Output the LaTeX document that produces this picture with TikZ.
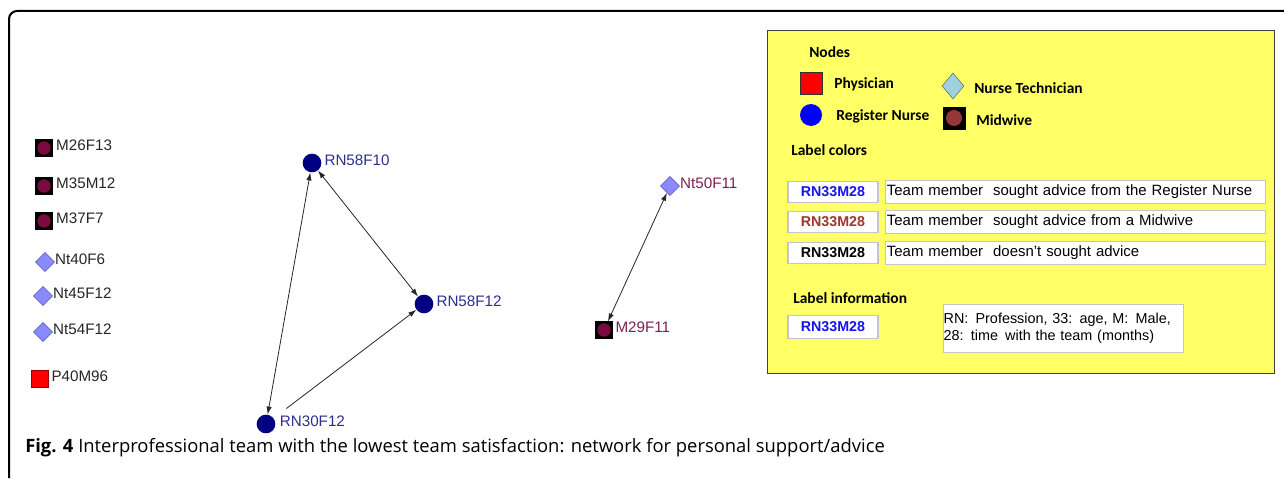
\documentclass[tikz,border=0pt]{standalone}
\usepackage{fontspec}
\setmainfont{Liberation Sans}
\newfontfamily\legfont{Carlito}
\newfontfamily\capfont{Open Sans}
\usepackage{xcolor}
\usepackage{tikz}
\usetikzlibrary{arrows.meta, positioning, shapes.geometric}

\definecolor{rnnavy}{HTML}{000080}
\definecolor{rntext}{HTML}{2E2E8F}
\definecolor{midred}{HTML}{7A0A40}
\definecolor{midtext}{HTML}{7F1F50}
\definecolor{ntfill}{HTML}{8A8AFF}
\definecolor{ntdraw}{HTML}{5A5AB0}
\definecolor{legyellow}{HTML}{FFFF66}
\definecolor{legdiam}{HTML}{9ED0E0}
\definecolor{legbrown}{HTML}{963636}
\definecolor{boxgray}{HTML}{C4C4CC}
\definecolor{lblblue}{HTML}{1414F0}
\definecolor{lblbrown}{HTML}{A3342C}

\begin{document}
\begin{tikzpicture}[x=0.75pt, y=-0.75pt,
            mid/.style={rectangle, draw=black, fill=black, minimum size=12.5pt, inner sep=0pt,
                path picture={\fill[midred] (path picture bounding box.center) circle (5pt);}},
            nt/.style={diamond, draw=ntdraw, fill=ntfill, minimum size=14.5pt, inner sep=0pt},
            rn/.style={circle, fill=rnnavy, minimum size=14pt, inner sep=0pt},
            phy/.style={rectangle, draw=red!60!black, fill=red, minimum size=12.5pt, inner sep=0pt},
            lbl/.style={font=\fontsize{11.4}{13}\selectfont, inner sep=0pt, yshift=2pt, text=black!85},
            edge/.style={draw=black!85, line width=0.6pt},
            >={Latex[length=6pt, width=4pt]},
            head/.style={font=\legfont\bfseries\fontsize{11.6}{13}\selectfont, anchor=west, inner sep=0pt},
            sample/.style={draw=boxgray, line width=0.9pt, fill=white, minimum width=67.5pt, minimum height=16pt,
                inner sep=0pt, font=\bfseries\fontsize{10.7}{12}\selectfont},
            desc/.style={draw=boxgray, line width=0.9pt, fill=white, anchor=west, text width=283pt, align=left,
                inner xsep=1pt, minimum height=17pt, font=\fontsize{11.2}{12.75}\selectfont}
        ]
        \useasboundingbox (0,0) rectangle (1284,478);

        % frame and caption
        \draw[line width=1.5pt, rounded corners=6pt] (9,478) -- (9,11) -- (1284,11);
        \node[anchor=base west, inner sep=0pt, font=\capfont\fontsize{13.8}{16}\selectfont] (caption) at (25,452)
            {\textbf{Fig. 4} Interprofessional team with the lowest team satisfaction: network for personal support/advice};

        % Isolated nodes (left column)
        \node[mid] (M26F13) at (44,148) {};
        \node[mid] (M35M12) at (44,186) {};
        \node[mid] (M37F7) at (44,221) {};
        \node[nt] (Nt40F6) at (45,262) {};
        \node[nt] (Nt45F12) at (43,296) {};
        \node[nt] (Nt54F12) at (43,332) {};
        \node[phy] (P40M96) at (40,379) {};

        \node[lbl, right=2.5pt of M26F13] (tM26F13) {M26F13};
        \node[lbl, right=2.5pt of M35M12] (tM35M12) {M35M12};
        \node[lbl, right=2.5pt of M37F7] (tM37F7) {M37F7};
        \node[lbl, right=0pt of Nt40F6] (tNt40F6) {Nt40F6};
        \node[lbl, right=0pt of Nt45F12] (tNt45F12) {Nt45F12};
        \node[lbl, right=0pt of Nt54F12] (tNt54F12) {Nt54F12};
        \node[lbl, right=2pt of P40M96] (tP40M96) {P40M96};

        % Register nurses
        \node[rn] (RN58F10) at (312,163) {};
        \node[rn] (RN58F12) at (424,304) {};
        \node[rn] (RN30F12) at (266,424) {};

        \node[lbl, text=rntext, right=2pt of RN58F10] (tRN58F10) {RN58F10};
        \node[lbl, text=rntext, right=2pt of RN58F12] (tRN58F12) {RN58F12};
        \node[lbl, text=rntext, right=3pt of RN30F12] (tRN30F12) {RN30F12};

        % Nurse technician and midwive pair
        \node[nt] (Nt50F11) at (670,186) {};
        \node[mid] (M29F11) at (604,330) {};

        \node[lbl, text=midtext, right=0pt of Nt50F11] (tNt50F11) {Nt50F11};
        \node[lbl, text=midtext, right=2pt of M29F11] (tM29F11) {M29F11};

        % Edges
        \draw[edge, <->] (RN58F10) -- (RN30F12);
        \draw[edge, <->] (RN58F10) -- (RN58F12);
        \draw[edge, ->, shorten <=12pt] (RN30F12) -- (RN58F12);
        \draw[edge, <->] (Nt50F11) -- (M29F11);

        % Legend
        \node[draw=black!75, line width=1pt, fill=legyellow, anchor=north west, minimum width=380pt,
            minimum height=257pt, inner sep=0pt] (legend) at (767,30) {};

        \node[head] (hNodes) at (809,52) {Nodes};
        \node[phy, draw=black!80, minimum size=16.5pt] (lgPhy) at (811,83) {};
        \node[head] (tPhy) at (834,84) {Physician};
        \node[circle, fill=blue, minimum size=16.5pt, inner sep=0pt] (lgRN) at (811,115) {};
        \node[head] (tRN) at (836,116) {Register Nurse};
        \node[diamond, draw=black!60, fill=legdiam, minimum width=16.5pt, minimum height=19.5pt,
            inner sep=0pt] (lgNT) at (953,86) {};
        \node[head] (tNT) at (974,88) {Nurse Technician};
        \node[mid, minimum size=16.5pt,
            path picture={\fill[legbrown] (path picture bounding box.center) circle (6pt);}] (lgMW) at (954,118) {};
        \node[head] (tMW) at (976,120) {Midwive};

        \node[head] (hColors) at (791,150) {Label colors};
        \node[sample, text=lblblue] (sBlue) at (833,192) {RN33M28};
        \node[desc] (dBlue) at (885,192) {Team member\ \ sought advice from the Register Nurse};
        \node[sample, text=lblbrown] (sBrown) at (833,222) {RN33M28};
        \node[desc] (dBrown) at (885,222) {Team member\ \ sought advice from a Midwive};
        \node[sample, text=black] (sBlack) at (833,253) {RN33M28};
        \node[desc] (dBlack) at (885,253) {Team member\ \ doesn't sought advice};

        \node[head] (hInfo) at (793,298) {Label information};
        \node[sample, text=lblblue, minimum height=17.5pt] (sInfo) at (833,327) {RN33M28};
        \node[desc, anchor=north west, text width=180pt, inner xsep=0pt, minimum height=36pt,
            font=\fontsize{10.8}{12.75}\selectfont] (dInfo) at (943,304)
            {RN:\,\ Profession, 33: age, M:\,\ Male,\\28: time\,\ with the team (months)};

    \end{tikzpicture}
\end{document}
